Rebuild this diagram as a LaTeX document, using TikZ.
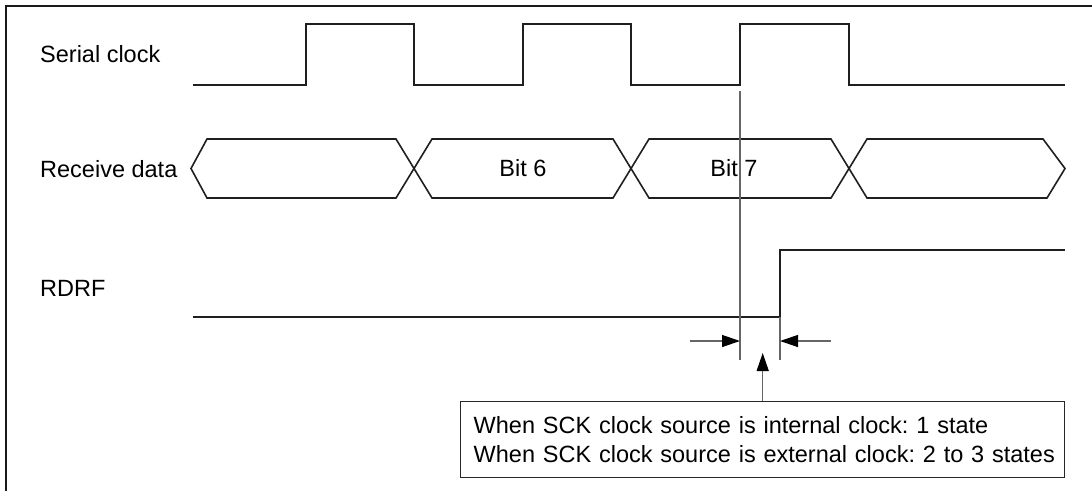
\documentclass[tikz,border=0pt]{standalone}
\usepackage{fontspec}
\setmainfont{Liberation Sans}
\usetikzlibrary{arrows.meta}
\frenchspacing
\begin{document}
\begin{tikzpicture}[x=1pt,y=-1pt,
  wave/.style={draw=black!88, line width=1.6pt, line join=miter},
  marker/.style={draw=black!60, line width=1.3pt},
  frame/.style={draw=black!90, line width=2pt},
  lbl/.style={font=\fontsize{23.5}{29}\selectfont, inner sep=0pt, anchor=base west},
  bitlbl/.style={font=\fontsize{23.5}{29}\selectfont, inner sep=0pt},
  dimarrow/.style={draw=black!60, line width=1.3pt, -{Triangle[length=18pt,width=12pt]}, arrows={[color=black]}},
  note/.style={draw=black!85, line width=1.4pt, fill=white, anchor=north west,
    font=\fontsize{23.5}{29}\selectfont, align=left, inner xsep=13pt, inner ysep=0pt,
    minimum width=604pt, minimum height=76pt, text width=578pt}
]
\useasboundingbox (0,0) rectangle (1092,491);
% frame
\draw[frame] (6,491) -- (6,6) -- (1092,6);
% labels
\node[lbl] (lsck) at (40,62.7) {Serial clock};
\node[lbl] (lrx) at (40,177.5) {Receive data};
\node[lbl] (lrdrf) at (40,296) {RDRF};
% serial clock
\draw[wave] (193,85) -- (306,85) -- (306,24) -- (414,24) -- (414,85) -- (523,85) -- (523,24)
  -- (631,24) -- (631,85) -- (740,85) -- (740,24) -- (849,24) -- (849,85) -- (1065,85);
% receive data
\def\yt{139}\def\yb{198}\def\ym{168.5}
\draw[wave] (191,\ym) -- (207,\yt) -- (396,\yt) -- (414,\ym) -- (396,\yb) -- (207,\yb) -- cycle;
\foreach \a/\b in {414/631, 631/849} {
  \draw[wave] (\a,\ym) -- ({\a+18},\yt) -- ({\b-18},\yt) -- (\b,\ym) -- ({\b-18},\yb) -- ({\a+18},\yb) -- cycle;
}
\draw[wave] (849,\ym) -- (867,\yt) -- (1043,\yt) -- (1065,\ym) -- (1047,\yb) -- (867,\yb) -- cycle;
\node[bitlbl] (b6) at (523,168.5) {Bit 6};
\node[bitlbl] (b7) at (734,168.5) {Bit 7};
% RDRF
\draw[wave] (193,317) -- (780,317) -- (780,250) -- (1065,250);
% markers
\coordinate (m1t) at (740,91);
\coordinate (m1b) at (740,360);
\coordinate (m2t) at (780,317);
\coordinate (m2b) at (780,360);
\draw[marker] (m1t) -- (m1b);
\draw[marker] (m2t) -- (m2b);
\coordinate (a1s) at (690,341);
\coordinate (a1e) at (740,341);
\coordinate (a2s) at (831,341);
\coordinate (a2e) at (780,341);
\draw[dimarrow] (a1s) -- (a1e);
\draw[dimarrow] (a2s) -- (a2e);
% note box
\node[note] (box) at (460,401) {\mbox{When SCK clock source is internal clock: 1 state}\\\mbox{When SCK clock source is external clock: 2 to 3 states}};
\coordinate (tip) at (box.north |- 0,353);
\draw[dimarrow] (box.north) -- (tip);
\end{tikzpicture}
\end{document}
